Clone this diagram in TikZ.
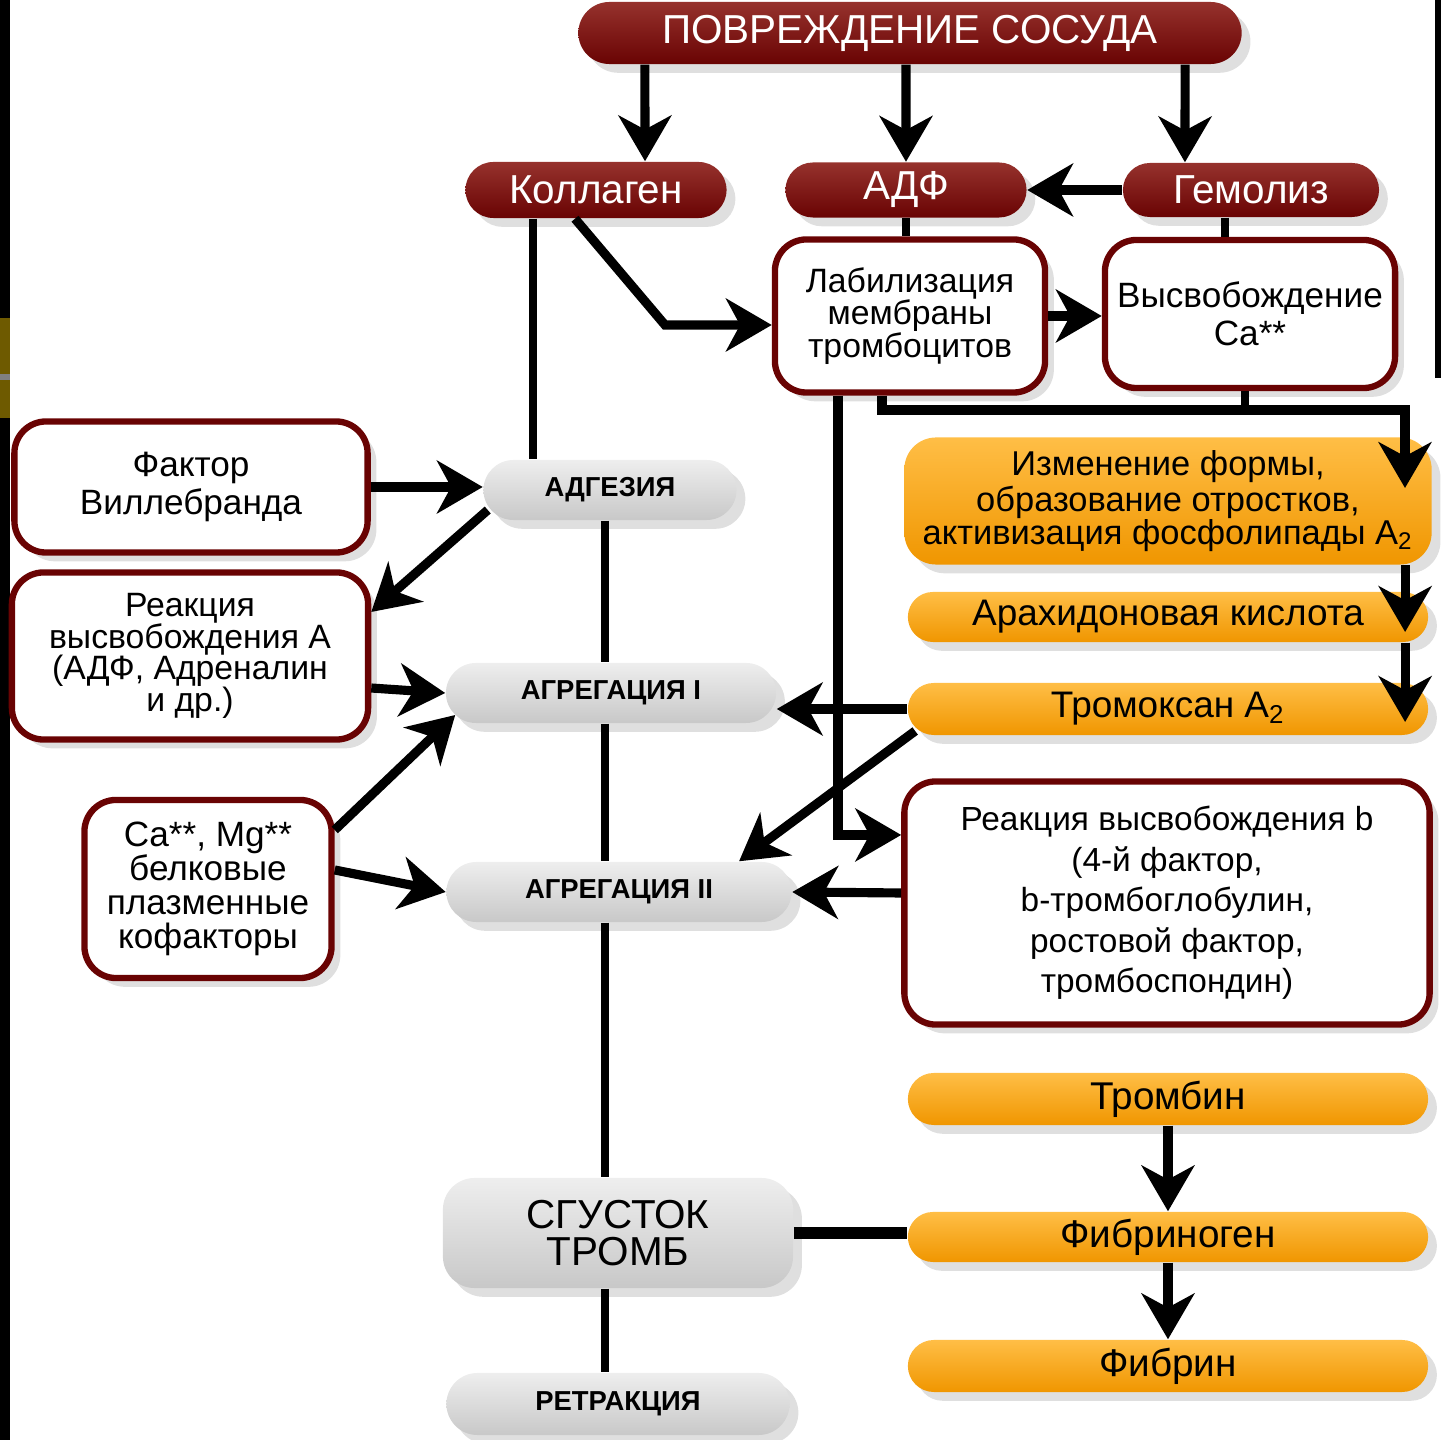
\documentclass[tikz,border=0pt]{standalone}
\usepackage{fontspec}
\setmainfont{Liberation Sans}
\usetikzlibrary{arrows.meta,shadows,shapes.misc}
\definecolor{bordo}{RGB}{105,3,3}
\definecolor{bordohi}{RGB}{150,50,45}
\definecolor{oranzh}{RGB}{240,150,0}
\definecolor{oranzhhi}{RGB}{255,190,70}
\definecolor{sery}{RGB}{200,200,200}
\definecolor{seryhi}{RGB}{238,238,238}
\definecolor{zoloto}{RGB}{110,90,0}

\begin{document}
\begin{tikzpicture}[x=0.01cm,y=-0.01cm,
	shad/.style={drop shadow={shadow xshift=2.5pt,shadow yshift=-2.5pt,opacity=.25}},
	redpill/.style={shad,rounded rectangle,top color=bordohi,bottom color=bordo,text=white,inner sep=1pt,font=\fontsize{11.5}{12}\selectfont},
	orpill/.style={shad,rounded rectangle,top color=oranzhhi,bottom color=oranzh,inner sep=1pt,minimum width=5.27cm,font=\fontsize{10.5}{11}\selectfont},
	graypill/.style={shad,rounded rectangle,top color=seryhi,bottom color=sery,inner sep=1pt,font=\fontsize{7.8}{8}\selectfont\bfseries},
	whitebox/.style={shad,rectangle,rounded corners=9pt,draw=bordo,line width=1.8pt,fill=white,align=center,inner sep=2pt,font=\fontsize{9.6}{9.2}\selectfont},
	ln/.style={line width=2.5pt},
	arr/.style={line width=2.6pt,-{Stealth[length=13pt,width=15pt,inset=4pt]}}]
	\useasboundingbox (0,0) rectangle (1441,1440);
	% края слайда
	\fill[black] (0,0) rectangle (10,1440); \fill[zoloto] (0,318) rectangle (10,418); \fill[gray] (0,374) rectangle (10,380);
	\fill[black] (1435,0) rectangle (1441,378);
	% верхний ряд
	\node[redpill,minimum width=6.7cm,minimum height=0.62cm] (damage) at (910,33) {ПОВРЕЖДЕНИЕ СОСУДА};
	\node[redpill,minimum width=2.68cm,minimum height=0.56cm] (kol) at (596,190) {Коллаген};
	\node[redpill,minimum width=2.48cm,minimum height=0.55cm] (adf) at (906,190) {АДФ};
	\node[redpill,minimum width=2.63cm,minimum height=0.54cm] (gem) at (1251,190) {Гемолиз};
	\node[whitebox,minimum width=2.7cm,minimum height=1.53cm] (lab) at (910,316) {Лабилизация\\мембраны\\тромбоцитов};
	\node[whitebox,minimum width=2.9cm,minimum height=1.48cm,font=\fontsize{10}{10.8}\selectfont] (ca) at (1250,314) {Высвобождение\\Ca**};
	% оранжевые
	\node[shad,rectangle,rounded corners=9pt,top color=oranzhhi,bottom color=oranzh,minimum width=5.27cm,minimum height=1.27cm,align=center,inner sep=1pt,font=\fontsize{9.8}{9.2}\selectfont] (izm) at (1168,501) {Изменение формы,\\образование отростков,\\активизация фосфолипады A\textsubscript{2}};
	\node[orpill,minimum height=0.5cm] (arach) at (1168,617) {Арахидоновая кислота};
	\node[orpill,minimum height=0.52cm] (tromox) at (1168,709) {Тромоксан A\textsubscript{2}};
	\node[whitebox,minimum width=5.25cm,minimum height=2.43cm,font=\fontsize{9.5}{11.5}\selectfont] (relB) at (1167,903) {Реакция высвобождения b\\(4-й фактор,\\b-тромбоглобулин,\\ростовой фактор,\\тромбоспондин)};
	\node[orpill,minimum height=0.52cm,font=\fontsize{11}{11}\selectfont] (thrombin) at (1168,1099) {Тромбин};
	\node[orpill,minimum height=0.5cm,font=\fontsize{11}{11}\selectfont] (fibrinogen) at (1168,1237) {Фибриноген};
	\node[orpill,minimum height=0.52cm,font=\fontsize{11}{11}\selectfont] (fibrin) at (1168,1366) {Фибрин};
	% левая колонка
	\node[whitebox,minimum width=3.53cm,minimum height=1.31cm,font=\fontsize{10}{10.8}\selectfont] (vwf) at (191,487) {Фактор\\Виллебранда};
	\node[whitebox,minimum width=3.56cm,minimum height=1.67cm,font=\fontsize{9.6}{9}\selectfont] (relA) at (190,656) {Реакция\\высвобождения А\\(АДФ, Адреналин\\и др.)};
	\node[whitebox,minimum width=2.47cm,minimum height=1.78cm,font=\fontsize{10}{9.7}\selectfont] (cofac) at (208,889) {Ca**, Mg**\\белковые\\плазменные\\кофакторы};
	% стадии
	\node[graypill,minimum width=2.6cm,minimum height=0.6cm] (adh) at (610,490) {АДГЕЗИЯ};
	\node[graypill,minimum width=3.37cm,minimum height=0.6cm] (agg1) at (611,693) {АГРЕГАЦИЯ I};
	\node[graypill,minimum width=3.52cm,minimum height=0.6cm] (agg2) at (619,892) {АГРЕГАЦИЯ II};
	\node[shad,rectangle,rounded corners=9pt,top color=seryhi,bottom color=sery,minimum width=3.5cm,minimum height=1.1cm,align=center,inner sep=1pt,font=\fontsize{11.5}{10.5}\selectfont] (clot) at (618,1233) {СГУСТОК\\ТРОМБ};
	\node[graypill,minimum width=3.5cm,minimum height=0.62cm] (retr) at (618,1404) {РЕТРАКЦИЯ};
	% связи сверху
	\draw[arr] ([xshift=-2.65cm]damage.south) -- ([xshift=0.49cm]kol.north);
	\draw[arr] ([xshift=-0.04cm]damage.south) -- (adf.north);
	\draw[arr] ([xshift=2.75cm]damage.south) -- ([xshift=-0.66cm]gem.north);
	\draw[arr] (gem.west) -- (adf.east);
	\draw[ln] (adf.south) -- (adf.south |- lab.north);
	\draw[ln] ([xshift=-0.26cm]gem.south) -- ([xshift=-0.26cm]gem.south |- ca.north);
	\coordinate (kb) at (665,325);
	\draw[arr] ([xshift=-0.21cm]kol.south) -- (kb) -- (kb -| lab.west);
	\draw[arr] (lab.east) -- (lab.east -| ca.west);
	\coordinate (bus) at (1405,410); \coordinate (busend) at (1405,488);
	\draw[arr] ([xshift=-0.28cm]lab.south) |- (bus) -- (busend);
	\draw[ln] ([xshift=-0.05cm]ca.south) -- ([xshift=-0.05cm]ca.south |- bus);
	\draw[arr] ([xshift=-0.72cm]lab.south) |- ([yshift=0.68cm]relB.west);
	\draw[arr] ([xshift=2.37cm]izm.south) -- ([xshift=2.37cm,yshift=-0.15cm]arach.center);
	\draw[arr] ([xshift=2.37cm]arach.south) -- ([xshift=2.37cm,yshift=-0.13cm]tromox.center);
	% главная линия
	\draw[ln] ([xshift=-0.63cm]kol.south) -- ([xshift=-0.63cm]kol.south |- adh.north);
	\draw[ln] ([xshift=-0.05cm]adh.south) -- ([xshift=-0.05cm]adh.south |- agg1.north);
	\draw[ln] ([xshift=-0.06cm]agg1.south) -- ([xshift=-0.06cm]agg1.south |- agg2.north);
	\draw[ln] ([xshift=-0.14cm]agg2.south) -- ([xshift=-0.14cm]agg2.south |- clot.north);
	\draw[ln] ([xshift=-0.13cm]clot.south) -- ([xshift=-0.13cm]clot.south |- retr.north);
	% слева
	\draw[arr] (vwf.east) -- (vwf.east -| adh.west);
	\draw[arr] ([xshift=0.05cm,yshift=-0.2cm]adh.west) -- ([yshift=0.44cm]relA.east);
	\draw[arr] ([yshift=-0.32cm]relA.east) -- (agg1.west);
	\draw[arr] ([yshift=0.59cm]cofac.east) -- ([xshift=0.1cm,yshift=-0.22cm]agg1.west);
	\draw[arr] ([yshift=0.19cm]cofac.east) -- (agg2.west);
	% справа
	\draw[arr] (tromox.west) -- (tromox.west -| agg1.east);
	\draw[arr] ([xshift=0.08cm,yshift=-0.22cm]tromox.west) -- ([xshift=1.2cm]agg2.north);
	\draw[arr] ([yshift=0.1cm]relB.west) -- (agg2.east);
	\draw[arr] (thrombin.south) -- (fibrinogen.north);
	\draw[arr] (fibrinogen.south) -- (fibrin.north);
	\draw[line width=3.2pt] (clot.east) -- (clot.east -| fibrinogen.west);
\end{tikzpicture}
\end{document}
